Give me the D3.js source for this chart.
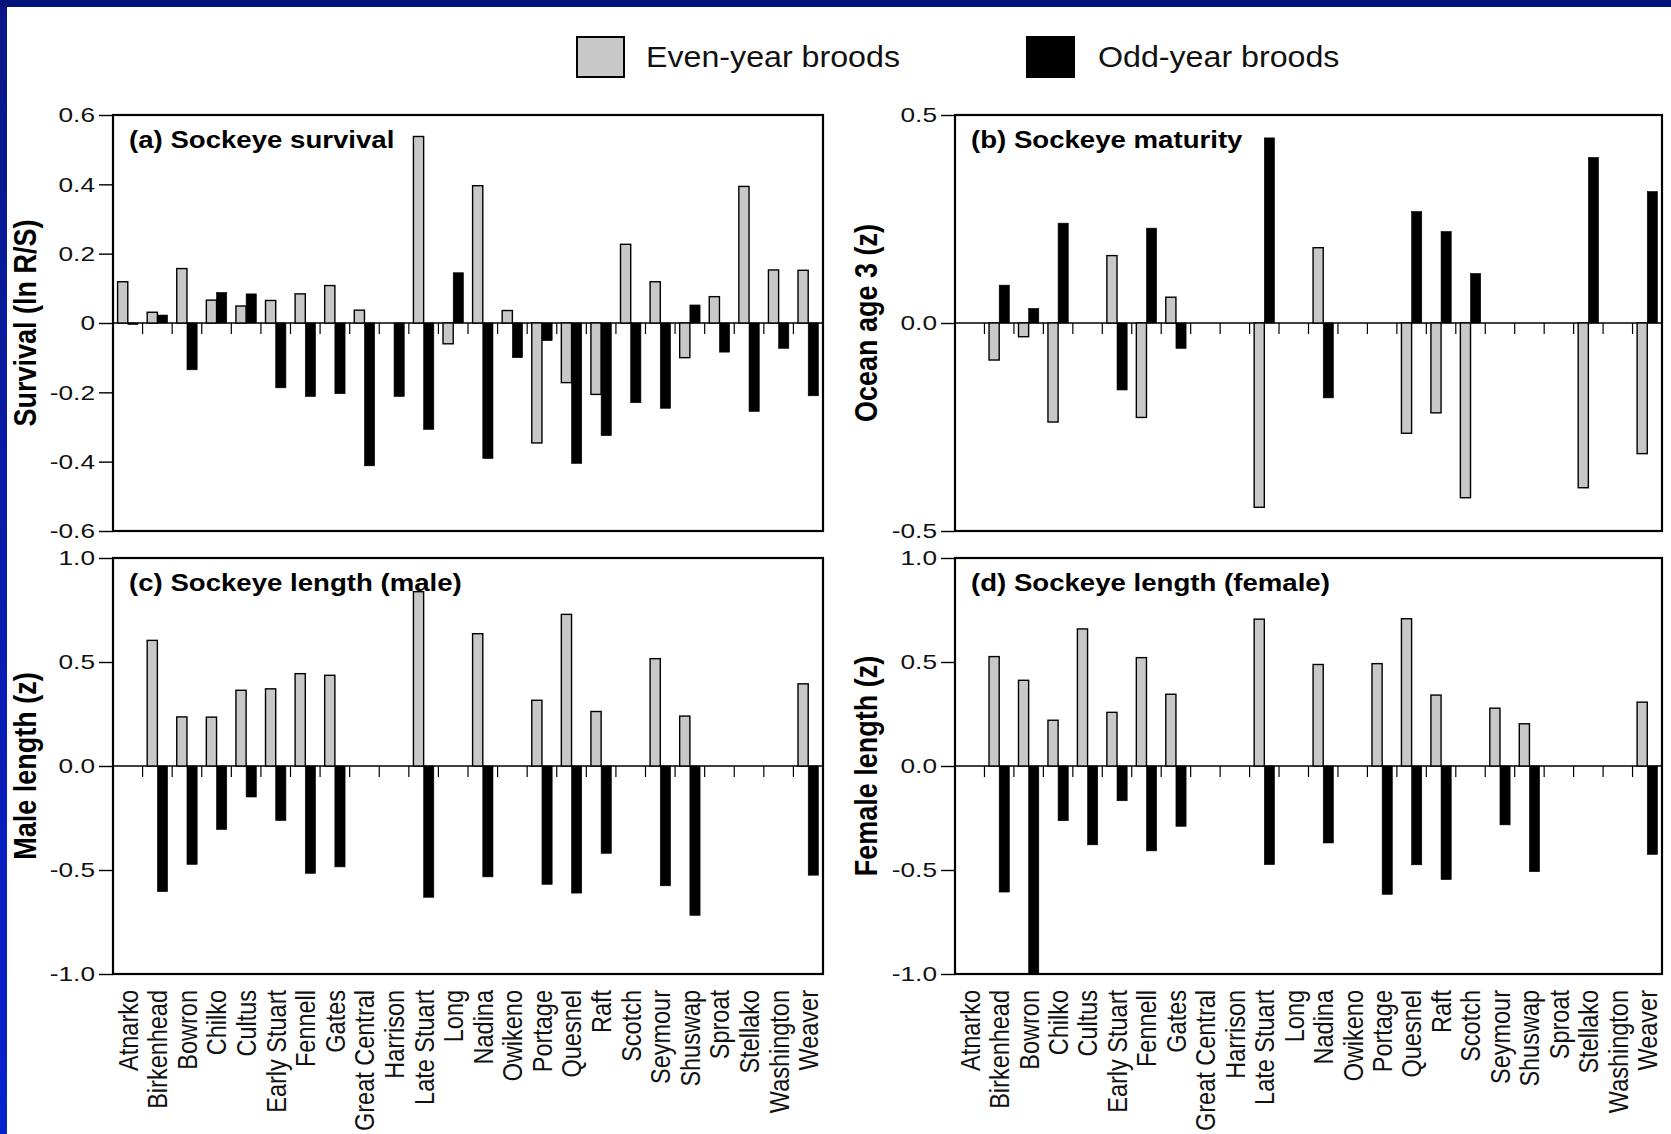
<!DOCTYPE html>
<html>
<head>
<meta charset="utf-8">
<script src="https://cdn.jsdelivr.net/npm/d3@7"></script>
<style>
  html, body { margin: 0; padding: 0; background: #ffffff; }
  svg { display: block; }
</style>
</head>
<body>
<svg id="chart" width="1671" height="1134"></svg>
<script>
// Sockeye stocks (x categories, shared by all four panels)
const rivers = ["Atnarko", "Birkenhead", "Bowron", "Chilko", "Cultus", "Early Stuart",
  "Fennell", "Gates", "Great Central", "Harrison", "Late Stuart", "Long", "Nadina",
  "Owikeno", "Portage", "Quesnel", "Raft", "Scotch", "Seymour", "Shuswap", "Sproat",
  "Stellako", "Washington", "Weaver"];

const broodGroups = ["Even-year broods", "Odd-year broods"];

// (a) survival, ln R/S
const survivalEven = [0.119, 0.031, 0.157, 0.066, 0.049, 0.065, 0.084, 0.108, 0.037, null,
  0.538, -0.060, 0.396, 0.036, -0.346, -0.172, -0.206, 0.227, 0.119, -0.100, 0.076, 0.394, 0.153, 0.152];
const survivalOdd = [-0.003, 0.023, -0.135, 0.088, 0.084, -0.187, -0.212, -0.204, -0.412, -0.212,
  -0.307, 0.145, -0.391, -0.100, -0.051, -0.405, -0.325, -0.230, -0.246, 0.052, -0.084, -0.255, -0.073, -0.210];

// (b) maturity, ocean age 3 (z)
const maturityEven = [null, -0.089, -0.033, -0.238, null, 0.162, -0.227, 0.062, null, null,
  -0.443, null, 0.181, null, null, -0.265, -0.216, -0.420, null, null, null, -0.396, null, -0.314];
const maturityOdd = [null, 0.091, 0.035, 0.240, null, -0.161, 0.228, -0.061, null, null,
  0.445, null, -0.180, null, null, 0.268, 0.220, 0.119, null, null, null, 0.398, null, 0.316];

// (c) male length (z)
const maleEven = [null, 0.604, 0.236, 0.235, 0.364, 0.371, 0.444, 0.436, null, null,
  0.838, null, 0.636, null, 0.316, 0.729, 0.262, null, 0.516, 0.240, null, null, null, 0.395];
const maleOdd = [null, -0.604, -0.473, -0.305, -0.149, -0.262, -0.516, -0.485, null, null,
  -0.631, null, -0.533, null, -0.569, -0.611, -0.420, null, -0.576, -0.718, null, null, null, -0.525];

// (d) female length (z)
const femaleEven = [null, 0.526, 0.412, 0.220, 0.659, 0.258, 0.521, 0.345, null, null,
  0.706, null, 0.488, null, 0.492, 0.708, 0.341, null, 0.278, 0.203, null, null, null, 0.307];
const femaleOdd = [null, -0.606, -1.0, -0.263, -0.379, -0.167, -0.408, -0.290, null, null,
  -0.474, null, -0.370, null, -0.617, -0.475, -0.546, null, -0.283, -0.508, null, null, null, -0.425];

// y-axis ticks and their printed labels
const survivalTicks = [0.6, 0.4, 0.2, 0, -0.2, -0.4, -0.6];
const survivalTickLabels = ["0.6", "0.4", "0.2", "0", "-0.2", "-0.4", "-0.6"];
const maturityTicks = [0.5, 0, -0.5];
const maturityTickLabels = ["0.5", "0.0", "-0.5"];
const lengthTicks = [1, 0.5, 0, -0.5, -1];
const lengthTickLabels = ["1.0", "0.5", "0.0", "-0.5", "-1.0"];

const panelTitles = ["(a) Sockeye survival", "(b) Sockeye maturity",
  "(c) Sockeye length (male)", "(d) Sockeye length (female)"];
const axisTitles = ["Survival (ln R/S)", "Ocean age 3 (z)", "Male length (z)", "Female length (z)"];

// ---------------------------------------------------------------------------
const FONT = "'Liberation Sans', Arial, Helvetica, sans-serif";
const GREY = "#c8c8c8";
const svg = d3.select("#chart");

// slide frame: navy top strip and blue left strip
const defs = svg.append("defs");
const grad = defs.append("linearGradient").attr("id", "sideGrad")
  .attr("x1", 0).attr("y1", 0).attr("x2", 0).attr("y2", 1);
grad.append("stop").attr("offset", "0%").attr("stop-color", "#0a1786");
grad.append("stop").attr("offset", "100%").attr("stop-color", "#0622cf");
svg.append("rect").attr("x", 0).attr("y", 0).attr("width", 1671).attr("height", 1134).attr("fill", "#fff");
svg.append("rect").attr("x", 0).attr("y", 0).attr("width", 7).attr("height", 1134).attr("fill", "url(#sideGrad)");
svg.append("rect").attr("x", 0).attr("y", 0).attr("width", 1671).attr("height", 7).attr("fill", "#03137c");

// legend
const legendItems = [
  { label: broodGroups[0], fill: GREY, bx: 577, tx: 646 },
  { label: broodGroups[1], fill: "#000", bx: 1027, tx: 1098 }
];
const legend = svg.append("g");
legendItems.forEach(it => {
  legend.append("rect").attr("x", it.bx).attr("y", 37).attr("width", 47).attr("height", 40)
    .attr("fill", it.fill).attr("stroke", "#000").attr("stroke-width", 2);
  legend.append("text").attr("transform", `translate(${it.tx},57) scale(1.11,1)`)
    .attr("dy", "0.35em").attr("font-family", FONT).attr("font-size", 29).attr("fill", "#111")
    .text(it.label);
});

const panels = [
  { left: 113, right: 823, top: 115, bottom: 531, domain: [-0.6, 0.6], ticks: survivalTicks, tickLabels: survivalTickLabels, even: survivalEven, odd: survivalOdd, titleX: 25 },
  { left: 955, right: 1662, top: 115, bottom: 531, domain: [-0.5, 0.5], ticks: maturityTicks, tickLabels: maturityTickLabels, even: maturityEven, odd: maturityOdd, titleX: 866 },
  { left: 113, right: 823, top: 558, bottom: 974, domain: [-1, 1], ticks: lengthTicks, tickLabels: lengthTickLabels, even: maleEven, odd: maleOdd, titleX: 25 },
  { left: 955, right: 1662, top: 558, bottom: 974, domain: [-1, 1], ticks: lengthTicks, tickLabels: lengthTickLabels, even: femaleEven, odd: femaleOdd, titleX: 866 }
];

panels.forEach((p, pi) => {
  const g = svg.append("g");
  const x = d3.scaleBand().domain(rivers).range([p.left, p.right]).paddingInner(0).paddingOuter(0);
  const xSub = d3.scaleBand().domain(broodGroups).range([0, x.bandwidth()]).paddingInner(0).paddingOuter(0.45);
  const y = d3.scaleLinear().domain(p.domain).range([p.bottom, p.top]);

  // zero line with small category-boundary ticks
  g.append("line").attr("x1", p.left).attr("x2", p.right).attr("y1", y(0)).attr("y2", y(0))
    .attr("stroke", "#000").attr("stroke-width", 1.5);
  g.selectAll("line.bound").data(rivers.slice(1)).join("line").attr("class", "bound")
    .attr("x1", d => x(d)).attr("x2", d => x(d)).attr("y1", y(0)).attr("y2", y(0) + 11)
    .attr("stroke", "#000").attr("stroke-width", 1.2);

  // bars
  const rows = [];
  rivers.forEach((r, i) => {
    if (p.even[i] !== null) rows.push({ river: r, group: broodGroups[0], value: p.even[i] });
    if (p.odd[i] !== null) rows.push({ river: r, group: broodGroups[1], value: p.odd[i] });
  });
  g.selectAll("rect.bar").data(rows).join("rect").attr("class", "bar")
    .attr("x", d => x(d.river) + xSub(d.group))
    .attr("width", xSub.bandwidth())
    .attr("y", d => Math.min(y(d.value), y(0)))
    .attr("height", d => Math.max(1.5, Math.abs(y(d.value) - y(0))))
    .attr("fill", d => d.group === broodGroups[0] ? GREY : "#000")
    .attr("stroke", "#000")
    .attr("stroke-width", d => d.group === broodGroups[0] ? 1.4 : 0.6);

  // frame
  g.append("rect").attr("x", p.left).attr("y", p.top).attr("width", p.right - p.left)
    .attr("height", p.bottom - p.top).attr("fill", "none").attr("stroke", "#000").attr("stroke-width", 2.2);

  // y axis
  const yAxis = d3.axisLeft(y).tickValues(p.ticks)
    .tickFormat((d, i) => p.tickLabels[i]).tickSize(14).tickPadding(4);
  const ag = g.append("g").attr("transform", `translate(${p.left},0)`).call(yAxis);
  ag.select(".domain").remove();
  ag.selectAll(".tick line").attr("stroke", "#000").attr("stroke-width", 1.4);
  ag.selectAll(".tick text")
    .attr("x", null)
    .attr("transform", "translate(-18,0) scale(1.25,1)")
    .attr("font-family", FONT).attr("font-size", 21).attr("fill", "#111");

  // y axis title
  g.append("text")
    .attr("transform", `translate(${p.titleX},${(p.top + p.bottom) / 2}) scale(1.17,1) rotate(-90)`)
    .attr("text-anchor", "middle").attr("dy", "0.35em")
    .attr("font-family", FONT).attr("font-weight", "bold").attr("font-size", 27).attr("fill", "#000")
    .text(axisTitles[pi]);

  // panel title
  g.append("text")
    .attr("transform", `translate(${p.left + 16},${p.top + 33}) scale(1.15,1)`)
    .attr("font-family", FONT).attr("font-weight", "bold").attr("font-size", 24).attr("fill", "#000")
    .text(panelTitles[pi]);

  // category labels under the lower panels
  if (pi >= 2) {
    g.selectAll("text.cat").data(rivers).join("text").attr("class", "cat")
      .attr("transform", d => `translate(${x(d) + x.bandwidth() / 2},${p.bottom + 16}) scale(1.2,1) rotate(-90)`)
      .attr("text-anchor", "end").attr("dy", "0.35em")
      .attr("font-family", FONT).attr("font-size", 23.5).attr("fill", "#111")
      .text(d => d);
  }
});
</script>
</body>
</html>
